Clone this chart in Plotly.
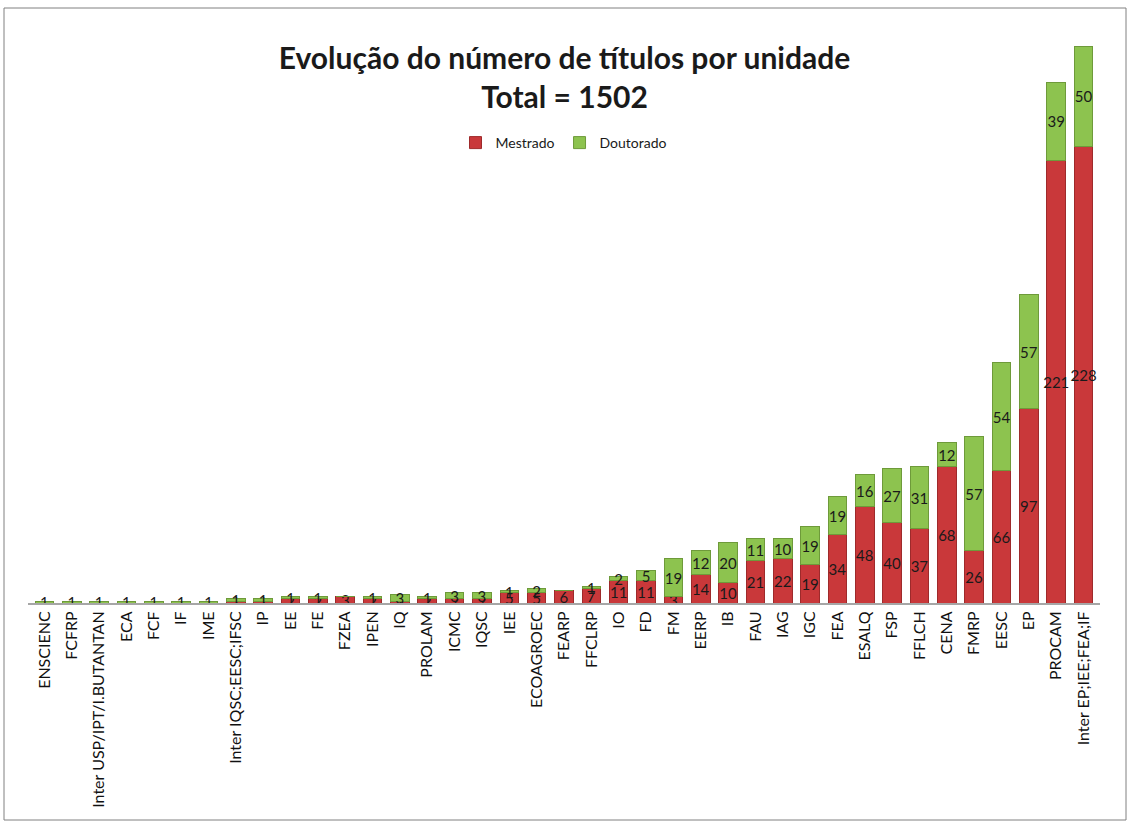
import plotly.graph_objects as go

categories = ["ENSCIENC", "FCFRP", "Inter USP/IPT/I.BUTANTAN", "ECA", "FCF", "IF", "IME",
              "Inter IQSC;EESC;IFSC", "IP", "EE", "FE", "FZEA", "IPEN", "IQ", "PROLAM", "ICMC",
              "IQSC", "IEE", "ECOAGROEC", "FEARP", "FFCLRP", "IO", "FD", "FM", "EERP", "IB",
              "FAU", "IAG", "IGC", "FEA", "ESALQ", "FSP", "FFLCH", "CENA", "FMRP", "EESC", "EP",
              "PROCAM", "Inter EP;IEE;FEA;IF"]
mestrado = [0, 0, 0, 0, 0, 0, 0, 1, 1, 2, 2, 3, 2, 1, 2, 2, 2, 5, 5, 6, 7,
            11, 11, 3, 14, 10, 21, 22, 19, 34, 48, 40, 37, 68, 26, 66, 97, 221, 228]
doutorado = [1, 1, 1, 1, 1, 1, 1, 1, 1, 1, 1, 0, 1, 3, 1, 3, 3, 1, 2, 0, 1,
             2, 5, 19, 12, 20, 11, 10, 19, 19, 16, 27, 31, 12, 57, 54, 57, 39, 50]

RED = "#C9383A"
GREEN = "#8DC34F"

fig = go.Figure()
fig.add_trace(go.Bar(x=categories, y=mestrado, name="Mestrado", marker_color=RED,
                     marker_line=dict(color="#9E2A2B", width=1),
                     text=mestrado, textposition="inside", insidetextanchor="middle",
                     textfont=dict(color="#1a1a1a", size=15, family="Lato"), textangle=0))
fig.add_trace(go.Bar(x=categories, y=doutorado, name="Doutorado", marker_color=GREEN,
                     marker_line=dict(color="#6E9A3A", width=1),
                     text=doutorado, textposition="inside", insidetextanchor="middle",
                     textfont=dict(color="#1a1a1a", size=15, family="Lato"), textangle=0))

L, R, T, B = 28, 29, 42, 219
W, H = 1129, 822
pw, ph = W - L - R, H - T - B

def px(x):
    return (x - L) / pw

def py(y):
    return (H - B - y) / ph

fig.update_layout(
    width=W, height=H,
    margin=dict(l=L, r=R, t=T, b=B),
    barmode="stack", bargap=0.32,
    plot_bgcolor="white", paper_bgcolor="white",
    font=dict(family="Lato", color="#1a1a1a"),
    title=dict(text="<b>Evolução do número de títulos por unidade<br>Total = 1502</b>",
               x=0.5, xanchor="center", y=1 - 69 / H, yanchor="middle",
               font=dict(size=30, family="Lato", color="#1a1a1a")),
    legend=dict(orientation="h", x=0.5, xanchor="center", y=py(143), yanchor="middle",
                font=dict(size=14, family="Lato"), bgcolor="rgba(0,0,0,0)",
                traceorder="normal"),
    uniformtext=dict(minsize=15, mode="show"),
    showlegend=True,
)
fig.update_xaxes(tickangle=-90, tickfont=dict(size=16, family="Lato", color="#111111"),
                 showline=True, linecolor="#A6A6A6", linewidth=2, ticks="",
                 range=[-0.6, len(categories) - 0.4])
fig.update_yaxes(visible=False, range=[0, 280])

fig.add_shape(type="rect", xref="paper", yref="paper",
              x0=px(4), x1=px(1126), y0=py(820), y1=py(8),
              line=dict(color="#808080", width=1), fillcolor="rgba(0,0,0,0)", layer="below")

fig.write_html("out.html", config={"displayModeBar": False},
               post_script="document.body.style.margin='0px';")
